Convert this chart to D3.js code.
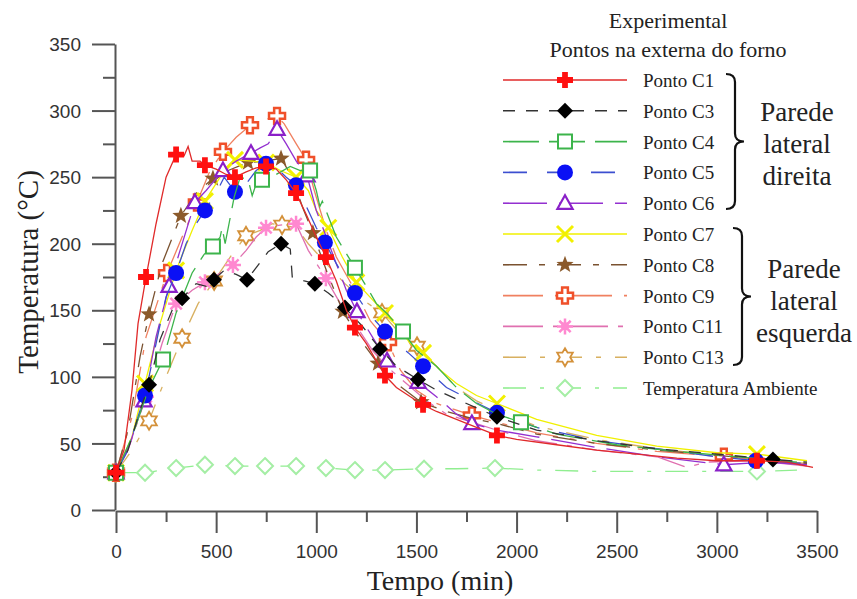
<!DOCTYPE html>
<html>
<head>
<meta charset="utf-8">
<script src="https://cdn.jsdelivr.net/npm/d3@7"></script>
<style>
  body { margin: 0; background: #fff; }
</style>
</head>
<body>
<div id="chart"></div>
<script>
// tick values
const xTicks = [0, 500, 1000, 1500, 2000, 2500, 3000, 3500];
const xMinor = [250, 750, 1250, 1750, 2250, 2750, 3250];
const yTicks = [0, 50, 100, 150, 200, 250, 300, 350];
const yMinor = [25, 75, 125, 175, 225, 275, 325];

const seriesNames = ["Ponto C1", "Ponto C3", "Ponto C4", "Ponto C5", "Ponto C6", "Ponto C7",
  "Ponto C8", "Ponto C9", "Ponto C11", "Ponto C13", "Temperatura Ambiente"];

// [tempo (min), temperatura (°C)]
const c1Line = [[0,28],[40,45],[80,90],[110,140],[150,175],[200,215],[250,250],[300,267],[340,266],[360,273],[380,262],[420,262],[444,259],[500,256],[550,252],[594,250],[650,254],[700,257],[749,258],[800,256],[850,248],[899,238],[950,222],[1000,205],[1048,190],[1100,172],[1150,150],[1193,137],[1250,125],[1300,112],[1343,101],[1400,92],[1470,85],[1533,79],[1600,74],[1700,68],[1800,62],[1902,56],[2000,53],[2200,49],[2400,45],[2600,42],[2800,39],[3000,37],[3200,37],[3350,36],[3480,32]];
const c1Marks = [[0,28],[150,175],[300,267],[444,259],[594,250],[749,258],[899,238],[1048,190],[1193,137],[1343,101],[1533,79],[1902,56],[3200,37]];

const c3Line = [[0,28],[60,45],[120,75],[165,94],[220,128],[280,150],[330,159],[400,170],[450,168],[489,173],[540,180],[600,177],[654,173],[700,182],[760,194],[824,200],[870,196],[880,175],[940,172],[993,170],[1060,163],[1100,158],[1143,152],[1230,138],[1318,121],[1400,108],[1508,98],[1600,90],[1750,80],[1902,70],[2100,60],[2400,52],[2700,46],[3000,42],[3280,38],[3450,36]];
const c3Marks = [[0,28],[165,94],[330,159],[489,173],[654,173],[824,200],[993,170],[1143,152],[1318,121],[1508,98],[1902,70],[3280,38]];

const c4Line = [[0,28],[80,55],[160,90],[235,113],[300,148],[380,178],[440,192],[484,198],[520,205],[530,212],[545,200],[590,235],[620,250],[660,248],[680,236],[700,245],[729,248],[800,252],[870,258],[920,255],[969,255],[1000,240],[1018,228],[1030,232],[1100,205],[1193,182],[1250,168],[1300,155],[1350,148],[1433,134],[1500,120],[1600,108],[1700,92],[1800,80],[1900,72],[2022,66],[2200,57],[2500,49],[2800,44],[3100,40],[3400,36]];
const c4Marks = [[0,28],[235,113],[484,198],[729,248],[969,255],[1193,182],[1433,134],[2022,66]];

const c5Line = [[0,28],[60,45],[110,70],[145,86],[200,125],[250,160],[300,178],[350,200],[400,215],[444,225],[500,238],[540,250],[594,239],[650,245],[700,255],[749,260],[800,257],[850,250],[899,244],[950,228],[1000,212],[1043,201],[1100,185],[1150,173],[1193,163],[1260,148],[1343,134],[1400,125],[1460,118],[1533,108],[1650,92],[1780,82],[1902,73],[2100,62],[2400,52],[2700,46],[3000,40],[3195,37],[3450,35]];
const c5Marks = [[0,28],[145,86],[300,178],[444,225],[594,239],[749,260],[899,244],[1043,201],[1193,163],[1343,134],[1533,108],[1902,73],[3195,37]];

const c6Line = [[0,28],[70,50],[140,82],[200,130],[265,168],[320,195],[394,231],[450,240],[534,255],[600,262],[674,268],[720,272],[760,275],[804,286],[850,275],[900,262],[954,251],[1000,225],[1050,205],[1100,185],[1150,165],[1203,149],[1280,130],[1353,112],[1420,102],[1508,96],[1600,85],[1700,72],[1777,65],[1900,60],[2100,55],[2400,47],[2700,40],[3035,34],[3250,36],[3450,34]];
const c6Marks = [[0,28],[140,82],[265,168],[394,231],[534,255],[674,268],[804,286],[954,251],[1203,149],[1353,112],[1508,96],[1777,65],[3035,34]];

const c7Line = [[0,28],[80,55],[145,95],[220,140],[300,180],[380,210],[444,232],[520,250],[594,263],[680,262],[749,261],[820,255],[899,250],[960,240],[1000,225],[1060,212],[1130,190],[1200,171],[1280,158],[1343,148],[1420,135],[1470,125],[1533,118],[1620,105],[1700,95],[1800,86],[1902,80],[2100,68],[2400,56],[2700,48],[3000,43],[3200,42],[3450,37]];
const c7Marks = [[0,28],[145,95],[300,180],[444,232],[594,263],[749,261],[899,250],[1060,212],[1200,171],[1343,148],[1533,118],[1902,80],[3200,42]];

const c8Line = [[0,28],[60,60],[120,115],[165,147],[230,185],[324,221],[400,238],[484,249],[560,255],[659,261],[740,262],[824,264],[880,250],[930,228],[983,208],[1050,180],[1133,149],[1220,128],[1308,110],[1400,95],[1523,81],[1650,74],[1800,68],[1902,65],[2100,57],[2400,50],[2700,45],[3000,41],[3250,38],[3450,35]];
const c8Marks = [[0,28],[165,147],[324,221],[484,249],[659,261],[824,264],[983,208],[1133,149],[1308,110],[1523,81]];

const c9Line = [[0,28],[80,70],[150,130],[255,178],[330,205],[404,231],[470,255],[534,269],[600,280],[640,285],[669,289],[720,292],[804,296],[840,290],[900,275],[949,263],[990,240],[1050,210],[1100,190],[1193,165],[1270,142],[1358,126],[1420,105],[1500,90],[1600,80],[1700,75],[1777,71],[1900,66],[2100,58],[2400,50],[2700,44],[3035,40],[3250,37],[3450,34]];
const c9Marks = [[0,28],[255,178],[404,231],[534,269],[669,289],[804,296],[949,263],[1358,126],[1777,71],[3035,40]];

const c11Line = [[0,28],[60,45],[150,85],[230,125],[300,155],[380,165],[444,171],[520,178],[584,184],[650,195],[700,205],[749,212],[820,214],[899,215],[960,195],[1048,174],[1120,155],[1200,138],[1280,120],[1350,108],[1450,95],[1550,82],[1650,72],[1777,66],[1900,60],[2100,52],[2400,45],[2700,40],[2850,32],[2950,36],[3200,37],[3450,33]];
const c11Marks = [[0,28],[150,85],[300,155],[444,171],[584,184],[749,212],[899,215],[1048,174]];

const c13Line = [[0,28],[80,45],[165,67],[250,100],[330,129],[410,155],[490,172],[570,190],[649,206],[720,210],[780,215],[829,214],[900,212],[960,200],[1050,185],[1143,170],[1230,158],[1328,148],[1420,132],[1503,123],[1600,108],[1700,92],[1800,82],[1900,75],[2100,63],[2400,53],[2700,46],[3000,41],[3200,38],[3450,35]];
const c13Marks = [[0,28],[165,67],[330,129],[490,172],[649,206],[829,214],[1328,148],[1503,123]];

const ambLine = [[0,28],[145,28],[300,31.5],[444,34],[594,33],[744,33],[899,33],[1048,31.5],[1193,30],[1343,30],[1538,31],[1700,31],[1892,31.5],[2100,30],[2400,29],[2700,29],[3000,29],[3200,29],[3400,30]];
const ambMarks = [[0,28],[145,28],[300,31.5],[444,34],[594,33],[744,33],[899,33],[1048,31.5],[1193,30],[1343,30],[1538,31],[1892,31.5],[3200,29]];

const lines = [c1Line, c3Line, c4Line, c5Line, c6Line, c7Line, c8Line, c9Line, c11Line, c13Line, ambLine];
const marks = [c1Marks, c3Marks, c4Marks, c5Marks, c6Marks, c7Marks, c8Marks, c9Marks, c11Marks, c13Marks, ambMarks];

// look of each series
const styles = [
  {line:"#e02a2a", dash:null,          shape:"plus",     fill:"#ff1010", stroke:"none",    sw:0,   s:8},
  {line:"#333",    dash:"12,11",       shape:"diamond",  fill:"#000",    stroke:"none",    sw:0,   s:8},
  {line:"#3cb44b", dash:"36,10",       shape:"square",   fill:"#fff",    stroke:"#3cb44b", sw:2,   s:7},
  {line:"#3c4fd0", dash:"24,20",       shape:"circle",   fill:"#0a10f5", stroke:"none",    sw:0,   s:8},
  {line:"#9330d0", dash:"44,12",       shape:"triangle", fill:"#fff",    stroke:"#8a20c8", sw:2.2, s:8},
  {line:"#f0f000", dash:null,          shape:"x",        fill:"none",    stroke:"#f2f000", sw:3,   s:8},
  {line:"#7a5230", dash:"24,12,6,12",  shape:"star",     fill:"#8b5a2b", stroke:"none",    sw:0,   s:9},
  {line:"#f08060", dash:"40,12,5,12",  shape:"hplus",    fill:"#fff",    stroke:"#f0502a", sw:2.5, s:8},
  {line:"#e070b0", dash:"40,10,5,10",  shape:"asterisk", fill:"none",    stroke:"#ff88d0", sw:2.5, s:8},
  {line:"#d8b060", dash:"23,14,5,14",  shape:"hexagram", fill:"#fff",    stroke:"#d4913a", sw:1.8, s:9},
  {line:"#90ee90", dash:"23,14,4,14",  shape:"rhomb",    fill:"#fff",    stroke:"#a5eea5", sw:2,   s:8}
];

const serif = "'Liberation Serif', 'Times New Roman', Times, 'DejaVu Serif', serif";
const sans = "'Liberation Sans', Arial, Helvetica, sans-serif";

function shapePath(kind, s) {
  const p = d3.path();
  const poly = pts => { pts.forEach((q, i) => i ? p.lineTo(q[0], q[1]) : p.moveTo(q[0], q[1])); p.closePath(); };
  if (kind === "plus" || kind === "hplus") {
    const a = s * 0.36;
    poly([[-a,-s],[a,-s],[a,-a],[s,-a],[s,a],[a,a],[a,s],[-a,s],[-a,a],[-s,a],[-s,-a],[-a,-a]]);
  } else if (kind === "diamond" || kind === "rhomb") {
    poly([[0,-s],[s,0],[0,s],[-s,0]]);
  } else if (kind === "square") {
    poly([[-s,-s],[s,-s],[s,s],[-s,s]]);
  } else if (kind === "circle") {
    p.arc(0, 0, s, 0, 2 * Math.PI);
  } else if (kind === "triangle") {
    poly([[0,-s],[s*0.95,s*0.7],[-s*0.95,s*0.7]]);
  } else if (kind === "x") {
    p.moveTo(-s,-s); p.lineTo(s,s); p.moveTo(s,-s); p.lineTo(-s,s);
  } else if (kind === "star") {
    const pts = d3.range(10).map(k => {
      const r = k % 2 ? s * 0.42 : s, a = -Math.PI / 2 + k * Math.PI / 5;
      return [r * Math.cos(a), r * Math.sin(a)];
    });
    poly(pts);
  } else if (kind === "asterisk") {
    for (let k = 0; k < 4; k++) {
      const a = k * Math.PI / 4;
      p.moveTo(-s * Math.cos(a), -s * Math.sin(a)); p.lineTo(s * Math.cos(a), s * Math.sin(a));
    }
    p.moveTo(s * 0.35, 0); p.arc(0, 0, s * 0.35, 0, 2 * Math.PI);
  } else if (kind === "hexagram") {
    const pts = d3.range(12).map(k => {
      const r = k % 2 ? s * 0.577 : s, a = -Math.PI / 2 + k * Math.PI / 6;
      return [r * Math.cos(a), r * Math.sin(a)];
    });
    poly(pts);
  }
  return p.toString();
}

const W = 857, H = 599;
const svg = d3.select("#chart").append("svg").attr("width", W).attr("height", H);

const x = d3.scaleLinear().domain([0, 3500]).range([116, 817]);
const y = d3.scaleLinear().domain([0, 350]).range([510, 44]);

// axes
const axisColor = "#555";
const gx = svg.append("g").attr("transform", "translate(0,511)");
gx.call(d3.axisBottom(x).tickValues(xTicks).tickSize(22).tickSizeOuter(0).tickFormat(d3.format("d")));
gx.append("g").call(d3.axisBottom(x).tickValues(xMinor).tickSize(11).tickFormat(""));
gx.selectAll("text").attr("y", 47).attr("dy", 0);

const gy = svg.append("g").attr("transform", "translate(115,0)");
gy.call(d3.axisLeft(y).tickValues(yTicks).tickSize(23).tickSizeOuter(0));
gy.append("g").call(d3.axisLeft(y).tickValues(yMinor).tickSize(12).tickFormat(""));
gy.selectAll("text").attr("x", -34).attr("dy", "0.35em");

[gx, gy].forEach(g => {
  g.attr("font-family", sans).attr("font-size", 19);
  g.selectAll("text").attr("fill", "#333");
  g.selectAll("g > g .domain").remove();
  g.selectAll(".domain, .tick line").attr("stroke", axisColor).attr("stroke-width", 2);
});

// axis titles
svg.append("text").attr("font-family", serif).attr("fill", "#222")
  .attr("x", 440).attr("y", 590).attr("text-anchor", "middle")
  .attr("font-size", 28).text("Tempo (min)");
svg.append("text").attr("font-family", serif).attr("fill", "#222")
  .attr("transform", "translate(38,272) rotate(-90)").attr("text-anchor", "middle")
  .attr("font-size", 29).text("Temperatura (°C)");

// series, drawn last to first so Ponto C1 ends on top
const line = d3.line().x(d => x(d[0])).y(d => y(d[1]));
const order = d3.range(seriesNames.length).reverse();
order.forEach(i => {
  const st = styles[i];
  const g = svg.append("g");
  g.append("path").datum(lines[i])
    .attr("d", line).attr("fill", "none")
    .attr("stroke", st.line).attr("stroke-width", 1.3)
    .attr("stroke-dasharray", st.dash);
  g.selectAll("path.mk").data(marks[i]).enter().append("path")
    .attr("class", "mk")
    .attr("transform", d => `translate(${x(d[0])},${y(d[1])})`)
    .attr("d", shapePath(st.shape, st.s))
    .attr("fill", st.fill).attr("stroke", st.stroke).attr("stroke-width", st.sw);
});

// legend
const lg = svg.append("g").attr("font-family", serif).attr("fill", "#222");
lg.append("text").attr("x", 668).attr("y", 28)
  .attr("text-anchor", "middle").attr("font-size", 22).text("Experimental");
lg.append("text").attr("x", 668).attr("y", 57)
  .attr("text-anchor", "middle").attr("font-size", 22).text("Pontos na externa do forno");

seriesNames.forEach((name, i) => {
  const st = styles[i];
  const ry = 80 + i * 30.8;
  lg.append("line").attr("x1", 503).attr("x2", 627).attr("y1", ry).attr("y2", ry)
    .attr("stroke", st.line).attr("stroke-width", 1.6).attr("stroke-dasharray", st.dash);
  lg.append("path").attr("transform", `translate(565,${ry})`)
    .attr("d", shapePath(st.shape, st.s))
    .attr("fill", st.fill).attr("stroke", st.stroke).attr("stroke-width", st.sw);
  lg.append("text").attr("x", 643).attr("y", ry + 7)
    .attr("font-size", 19).text(name);
});

// curly braces grouping the walls
function brace(x0, y1, y2, w) {
  const p = d3.path(), xm = x0 + w * 0.5, xt = x0 + w, ym = (y1 + y2) / 2, r = 8;
  p.moveTo(x0, y1);
  p.quadraticCurveTo(xm, y1, xm, y1 + r);
  p.lineTo(xm, ym - r);
  p.quadraticCurveTo(xm, ym, xt, ym);
  p.quadraticCurveTo(xm, ym, xm, ym + r);
  p.lineTo(xm, y2 - r);
  p.quadraticCurveTo(xm, y2, x0, y2);
  return p.toString();
}
lg.append("path").attr("d", brace(726, 74, 209, 18)).attr("fill", "none").attr("stroke", "#111").attr("stroke-width", 2.2);
lg.append("path").attr("d", brace(733, 228, 365, 18)).attr("fill", "none").attr("stroke", "#111").attr("stroke-width", 2.2);

const groupR = ["Parede", "lateral", "direita"];
const groupL = ["Parede", "lateral", "esquerda"];
groupR.forEach((t, k) => lg.append("text").attr("x", 797).attr("y", 121 + k * 32)
  .attr("text-anchor", "middle").attr("font-size", 27).text(t));
groupL.forEach((t, k) => lg.append("text").attr("x", 804).attr("y", 278 + k * 32)
  .attr("text-anchor", "middle").attr("font-size", 27).text(t));
</script>
</body>
</html>
